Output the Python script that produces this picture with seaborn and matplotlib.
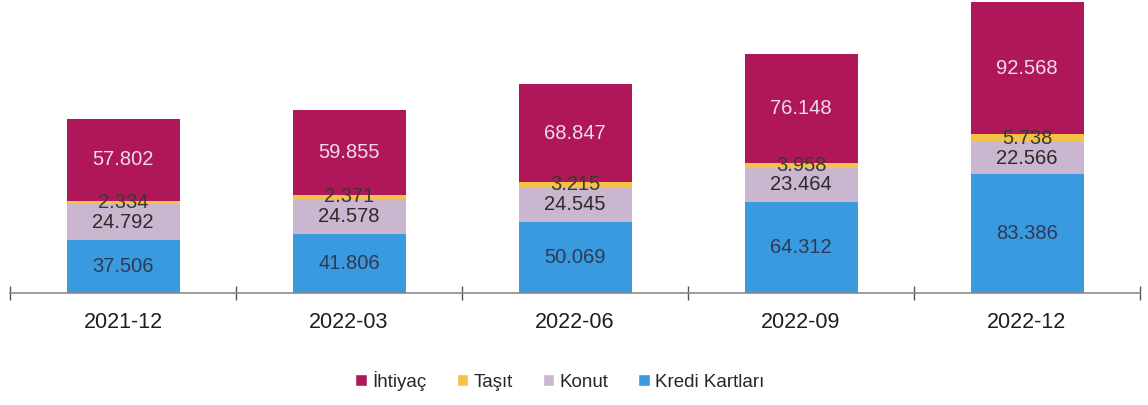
import matplotlib
matplotlib.use("Agg")
import matplotlib.pyplot as plt
import seaborn as sns
import pandas as pd
from matplotlib.patches import Patch

periods = ["2021-12", "2022-03", "2022-06", "2022-09", "2022-12"]
kredi_kartlari = [37.506, 41.806, 50.069, 64.312, 83.386]
konut = [24.792, 24.578, 24.545, 23.464, 22.566]
tasit = [2.334, 2.371, 3.215, 3.958, 5.738]
ihtiyac = [57.802, 59.855, 68.847, 76.148, 92.568]

series = [
    ("Kredi Kartları", kredi_kartlari, "#3a9ae0", "#2e3a55"),
    ("Konut", konut, "#cbb6cf", "#2b2b2b"),
    ("Taşıt", tasit, "#f4c245", "#3a3a2a"),
    ("İhtiyaç", ihtiyac, "#b0175b", "#ecdde8"),
]

sns.set_style("white")
plt.rcParams['font.family'] = ['Liberation Sans', 'DejaVu Sans']

fig = plt.figure(figsize=(11.48, 4.05), dpi=100)
ax = fig.add_axes([10 / 1148, 112 / 405, 1130 / 1148, 293 / 405])

bottom = [0.0] * len(periods)
for name, vals, color, tcolor in series:
    df = pd.DataFrame({"period": periods, "value": vals})
    sns.barplot(data=df, x="period", y="value", color=color, width=0.5,
                bottom=bottom, ax=ax, saturation=1, linewidth=0, zorder=2)
    for i, v in enumerate(vals):
        ax.text(i, bottom[i] + v / 2, f"{v:.3f}", ha="center", va="center",
                fontsize=14.5, color=tcolor, zorder=5)
    bottom = [b + v for b, v in zip(bottom, vals)]

ax.set_xlim(-0.5, 4.5)
ax.set_ylim(0, 206)
ax.set_xlabel("")
ax.set_ylabel("")
ax.set_yticks([])
for s in ["top", "right", "left"]:
    ax.spines[s].set_visible(False)
ax.spines["bottom"].set_color("#8a8a8a")
ax.spines["bottom"].set_linewidth(1.2)
ax.spines["bottom"].set_zorder(6)

ax.set_xticks(range(len(periods)))
ax.set_xticklabels(periods, fontsize=15.5, color="#1e1e1e")
ax.tick_params(axis="x", which="major", bottom=True, length=0, pad=14)
ax.set_xticks([-0.5 + k for k in range(6)], minor=True)
ax.tick_params(axis="x", which="minor", bottom=True, length=10, direction="inout",
               color="#555555", width=1)
ax.xaxis.set_clip_on(False)

handles = [Patch(facecolor=c, label=n) for n, _, c, _ in reversed(series)]
fig.legend(handles=handles, loc="center", bbox_to_anchor=(560 / 1148, 1 - 381 / 405),
           ncol=4, frameon=False, fontsize=13.5, handlelength=0.6, handleheight=0.6,
           handletextpad=0.3, columnspacing=1.6)

fig.savefig("out.png", dpi=100)
